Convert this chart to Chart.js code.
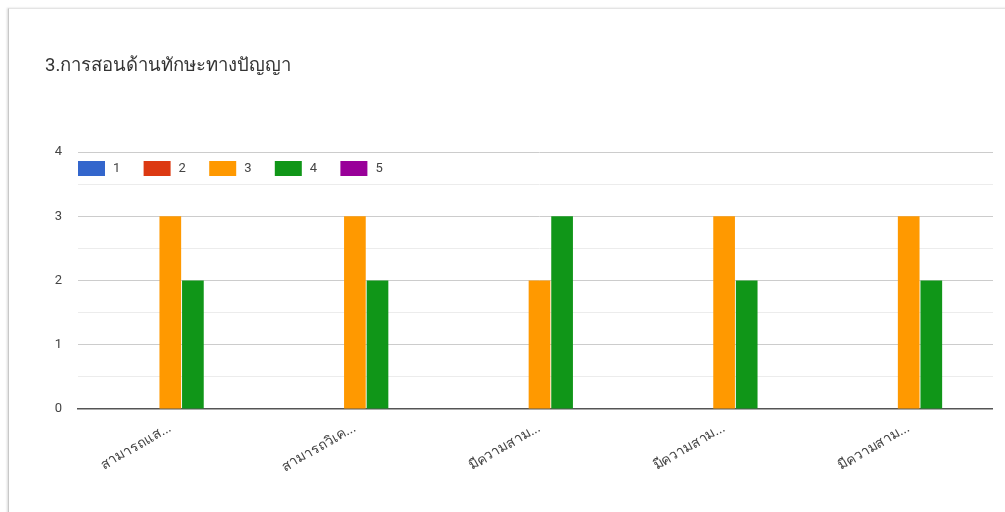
<!DOCTYPE html>
<html lang="th">
<head>
    <meta charset="UTF-8">
    <title>3.การสอนด้านทักษะทางปัญญา</title>
    <script src="https://cdn.jsdelivr.net/npm/chart.js@4.4.0/dist/chart.umd.min.js"></script>
    <style>
        html, body { margin: 0; padding: 0; background: #fff; overflow: hidden; }
        body { width: 1005px; height: 512px; position: relative; }
        .card {
            position: absolute; left: 8px; top: 8px; right: -200px; bottom: -200px;
            background: #fff;
            border-top: 1px solid #e4e4e4;
            border-left: 1px solid #c8c8c8;
            box-shadow: -1px 0 2px rgba(0, 0, 0, 0.15);
        }
        .plot { position: absolute; left: 0; top: 0; width: 993px; height: 512px; overflow: hidden; }
    </style>
</head>
<body>
    <div class="card"></div>
    <div class="plot">
        <canvas id="chart" width="1005" height="512"></canvas>
    </div>
    <script>
        const categories = ['สามารถแส...', 'สามารถวิเค...', 'มีความสาม...', 'มีความสาม...', 'มีความสาม...'];
        const seriesNames = ['1', '2', '3', '4', '5'];
        const seriesColors = ['#3366cc', '#dc3912', '#ff9900', '#109618', '#990099'];
        const score1 = [0, 0, 0, 0, 0];
        const score2 = [0, 0, 0, 0, 0];
        const score3 = [3, 3, 2, 3, 3];
        const score4 = [2, 2, 3, 2, 2];
        const score5 = [0, 0, 0, 0, 0];
        const yTicks = [0, 1, 2, 3, 4];

        const seriesValues = [score1, score2, score3, score4, score5];
        const FONT = 'Roboto, "Noto Sans", sans-serif';

        // legend sits inside the plot, just under the top gridline
        const insideLegend = {
            id: 'insideLegend',
            afterDatasetsDraw(chart) {
                const { ctx, chartArea } = chart;
                let x = chartArea.left;
                const y = chartArea.top + 9;
                ctx.save();
                ctx.font = '13px ' + FONT;
                ctx.textBaseline = 'middle';
                chart.data.datasets.forEach(ds => {
                    ctx.fillStyle = ds.backgroundColor;
                    ctx.fillRect(x, y, 27, 15);
                    ctx.fillStyle = '#444';
                    ctx.fillText(ds.label, x + 35, y + 8);
                    x += 65.6;
                });
                ctx.restore();
            }
        };

        new Chart(document.getElementById('chart'), {
            type: 'bar',
            data: {
                labels: categories,
                datasets: seriesNames.map((name, i) => ({
                    label: name,
                    data: seriesValues[i],
                    backgroundColor: seriesColors[i],
                    borderWidth: 0,
                    categoryPercentage: 0.612,
                    barPercentage: 0.96
                }))
            },
            options: {
                responsive: false,
                animation: false,
                layout: { padding: { left: 45, right: 4, top: 0, bottom: 0 } },
                plugins: {
                    legend: { display: false },
                    tooltip: { enabled: false },
                    title: {
                        display: true,
                        text: '3.การสอนด้านทักษะทางปัญญา',
                        align: 'start',
                        color: '#333',
                        font: { family: FONT, size: 18.5, weight: 'normal', lineHeight: 1.2 },
                        padding: { top: 55, bottom: 74.8 }
                    }
                },
                scales: {
                    x: {
                        grid: { display: false, drawTicks: false },
                        border: { display: true, color: '#555', width: 1.5 },
                        ticks: {
                            color: '#444',
                            font: { family: FONT, size: 14 },
                            maxRotation: 30,
                            minRotation: 30,
                            padding: 11,
                            autoSkip: false
                        },
                        afterFit(scale) { scale.height = 103; }
                    },
                    y: {
                        min: 0,
                        max: 4,
                        border: { display: false },
                        grid: {
                            drawTicks: false,
                            color: ctx => {
                                const v = ctx.tick.value;
                                if (v === 0) return 'rgba(0,0,0,0)';
                                return yTicks.includes(v) ? '#cccccc' : '#ececec';
                            }
                        },
                        ticks: {
                            stepSize: 0.5,
                            padding: 16,
                            color: '#444',
                            font: { family: FONT, size: 13 },
                            callback: v => yTicks.includes(v) ? String(v) : ''
                        },
                        afterFit(scale) { scale.width = 33; }
                    }
                }
            },
            plugins: [insideLegend]
        });
    </script>
</body>
</html>
